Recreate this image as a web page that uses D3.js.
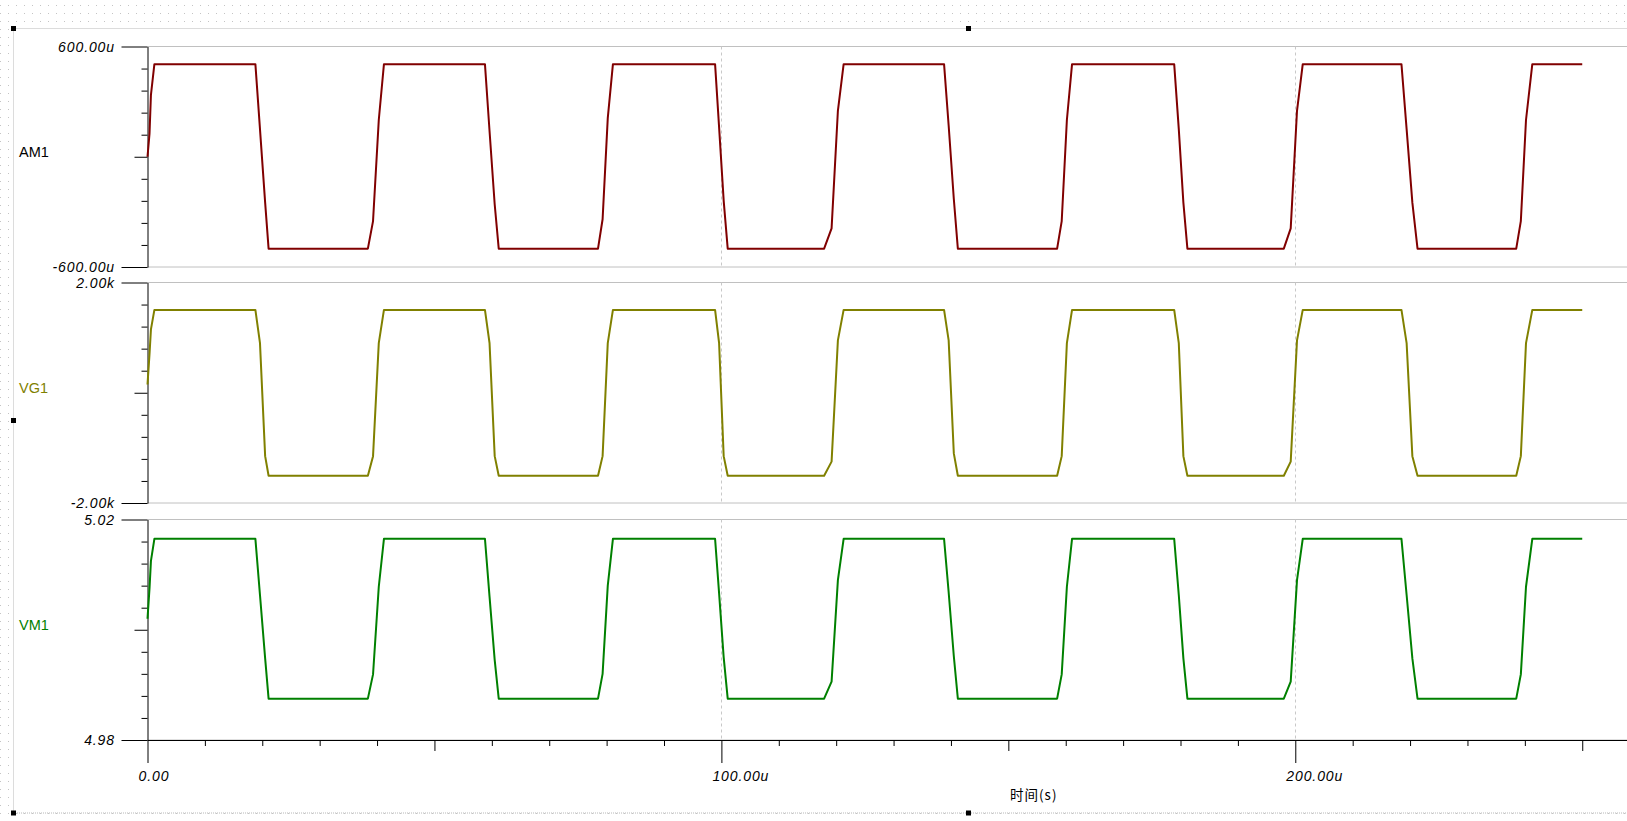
<!DOCTYPE html>
<html lang="en">
<head>
<meta charset="utf-8">
<title>AM1 / VG1 / VM1 transient</title>
<script src="https://d3js.org/d3.v7.min.js"></script>
<style>
  body { margin: 0; background: #fff; }
  svg { display: block; }
  .tick-label { font-family: "Liberation Sans", Arial, sans-serif; font-style: italic; font-size: 14px; letter-spacing: 0.9px; fill: #000; }
  .trace-label { font-family: "Liberation Sans", Arial, sans-serif; font-size: 14.5px; }
</style>
</head>
<body>
<svg id="chart" width="1627" height="821"></svg>
<script>
// time axis, in us
const times = [
  0, 0.35, 0.6, 1.2,
  18.8, 19.6, 20.5, 21.1,
  38.4, 39.3, 40.3, 41.2,
  58.8, 59.6, 60.5, 61.2,
  78.5, 79.3, 80.2, 81.1,
  98.9, 99.6, 100.4, 101.1,
  117.9, 119.2, 120.3, 121.3,
  138.8, 139.6, 140.5, 141.2,
  158.5, 159.3, 160.2, 161.1,
  178.9, 179.7, 180.5, 181.2,
  198.0, 199.2, 200.3, 201.3,
  218.5, 219.4, 220.4, 221.3,
  238.5, 239.3, 240.2, 241.3,
  250
];

// AM1 current, in uA
const am1 = [
  0, 125, 337, 504,
  504, 150, -250, -500,
  -500, -350, 200, 504,
  504, 140, -260, -500,
  -500, -340, 210, 504,
  504, 160, -240, -500,
  -500, -390, 250, 504,
  504, 170, -230, -500,
  -500, -350, 200, 504,
  504, 150, -250, -500,
  -500, -390, 250, 504,
  504, 150, -250, -500,
  -500, -350, 200, 504,
  504
];

// VG1 voltage, in V
const vg1 = [
  150, 700, 1150, 1503,
  1503, 900, -1150, -1505,
  -1505, -1150, 900, 1503,
  1503, 900, -1150, -1505,
  -1505, -1150, 900, 1503,
  1503, 900, -1150, -1505,
  -1505, -1250, 950, 1503,
  1503, 950, -1100, -1505,
  -1505, -1150, 900, 1503,
  1503, 900, -1150, -1505,
  -1505, -1250, 950, 1503,
  1503, 900, -1150, -1505,
  -1505, -1150, 900, 1503,
  1503
];

// VM1 voltage, in V
const vm1 = [
  5.002, 5.0075, 5.0125, 5.0165,
  5.0165, 5.0063, 4.9948, 4.9875,
  4.9875, 4.9919, 5.0078, 5.0165,
  5.0165, 5.0060, 4.9945, 4.9875,
  4.9875, 4.9920, 5.0080, 5.0165,
  5.0165, 5.0066, 4.9950, 4.9875,
  4.9875, 4.9906, 5.0090, 5.0165,
  5.0165, 5.0068, 4.9952, 4.9875,
  4.9875, 4.9919, 5.0078, 5.0165,
  5.0165, 5.0063, 4.9948, 4.9875,
  4.9875, 4.9906, 5.0090, 5.0165,
  5.0165, 5.0063, 4.9948, 4.9875,
  4.9875, 4.9919, 5.0078, 5.0165,
  5.0165
];

const traceNames = ["AM1", "VG1", "VM1"];
const traceValues = [am1, vg1, vm1];
const yDomains = [[-600, 600], [-2000, 2000], [4.98, 5.02]];
const yTopLabels = ["600.00u", "2.00k", "5.02"];
const yBottomLabels = ["-600.00u", "-2.00k", "4.98"];
const xLabelValues = [0, 100, 200];
const xLabels = ["0.00", "100.00u", "200.00u"];
const xAxisTitle = "时间(s)";

const traceColors = ["#800000", "#808000", "#008000"];
const labelColors = ["#000000", "#808000", "#008000"];

const W = 1627, H = 821;
const svg = d3.select("#chart");

// dotted background + dashed frame
const defs = svg.append("defs");
defs.append("pattern")
  .attr("id", "dots")
  .attr("patternUnits", "userSpaceOnUse")
  .attr("x", 0).attr("y", 5)
  .attr("width", 8).attr("height", 8)
  .append("rect")
  .attr("width", 1).attr("height", 1)
  .attr("fill", "#c4c4c4");

svg.append("rect").attr("width", W).attr("height", H).attr("fill", "url(#dots)");
svg.append("rect")
  .attr("x", 13.5).attr("y", 28.5)
  .attr("width", W).attr("height", 813 - 28.5)
  .attr("fill", "#fff")
  .attr("stroke", "#b8b8b8")
  .attr("stroke-dasharray", "1,1");

[[13.5, 28.5], [968.5, 28.5], [13.5, 420.5], [13.5, 813], [968.5, 813]].forEach(p => {
  svg.append("rect")
    .attr("x", p[0] - 2.5).attr("y", p[1] - 2.5)
    .attr("width", 5).attr("height", 5)
    .attr("fill", "#000");
});

const x = d3.scaleLinear().domain([0, 257.8]).range([147.5, W]);
const panelTop = [46.5, 282.5, 519.5];
const panelH = 220.5;

panelTop.forEach((top, i) => {
  const lo = yDomains[i][0], hi = yDomains[i][1];
  const y = d3.scaleLinear().domain([lo, hi]).range([top + panelH, top]);
  const g = svg.append("g");

  // horizontal grid at top/bottom of panel
  g.selectAll(".hgrid")
    .data([lo, hi])
    .join("line")
    .attr("x1", x(0)).attr("x2", W)
    .attr("y1", d => y(d)).attr("y2", d => y(d))
    .attr("stroke", "#c0c0c0");

  // vertical dashed grid
  g.selectAll(".vgrid")
    .data([100, 200])
    .join("line")
    .attr("x1", d => Math.round(x(d)) + 0.5).attr("x2", d => Math.round(x(d)) + 0.5)
    .attr("y1", top).attr("y2", top + panelH)
    .attr("stroke", "#c8c8c8")
    .attr("stroke-dasharray", "3,3");

  // y axis
  const ticks = d3.range(11).map(k => lo + (hi - lo) * k / 10);
  const ax = g.append("g")
    .attr("transform", `translate(${x(0)},0)`)
    .attr("color", "#000")
    .call(d3.axisLeft(y).tickValues(ticks).tickSize(6).tickSizeOuter(0).tickFormat(""));
  ax.selectAll(".tick line")
    .attr("x2", (d, k) => (k === 0 || k === 10) ? -26 : (k === 5 ? -13 : -6));
  ax.selectAll(".tick text").remove();

  g.append("text").attr("class", "tick-label")
    .attr("x", 115).attr("y", y(hi))
    .attr("text-anchor", "end").attr("dominant-baseline", "central")
    .text(yTopLabels[i]);
  g.append("text").attr("class", "tick-label")
    .attr("x", 115).attr("y", y(lo))
    .attr("text-anchor", "end").attr("dominant-baseline", "central")
    .text(yBottomLabels[i]);

  // trace
  const pts = times.map((t, k) => [t, traceValues[i][k]]);
  g.append("path")
    .datum(pts)
    .attr("fill", "none")
    .attr("stroke", traceColors[i])
    .attr("stroke-width", 2)
    .attr("stroke-linejoin", "round")
    .attr("d", d3.line().x(d => x(d[0])).y(d => y(d[1])));

  g.append("text").attr("class", "trace-label")
    .attr("x", 19).attr("y", top + panelH / 2 - 4.5)
    .attr("dominant-baseline", "central")
    .attr("fill", labelColors[i])
    .text(traceNames[i]);
});

// x axis under the last panel
const xBase = panelTop[2] + panelH;
const xa = svg.append("g")
  .attr("transform", `translate(0,${xBase})`)
  .attr("color", "#000")
  .call(d3.axisBottom(x).tickValues(d3.range(0, 251, 10)).tickSizeOuter(0).tickFormat(""));
xa.selectAll(".tick line")
  .attr("y2", d => d % 100 === 0 ? 23 : (d % 50 === 0 ? 11 : 6));
xa.selectAll(".tick text").remove();

svg.selectAll(".xlab")
  .data(xLabelValues)
  .join("text")
  .attr("class", "tick-label")
  .attr("x", d => x(d) - 9)
  .attr("y", xBase + 36)
  .attr("dominant-baseline", "central")
  .text((d, k) => xLabels[k]);

svg.append("text")
  .attr("x", 1010).attr("y", 794)
  .attr("dominant-baseline", "central")
  .attr("font-family", "'Noto Sans CJK SC', 'Liberation Sans', sans-serif")
  .attr("font-size", 13.5)
  .attr("letter-spacing", 1)
  .attr("fill", "#000")
  .text(xAxisTitle);
</script>
</body>
</html>
